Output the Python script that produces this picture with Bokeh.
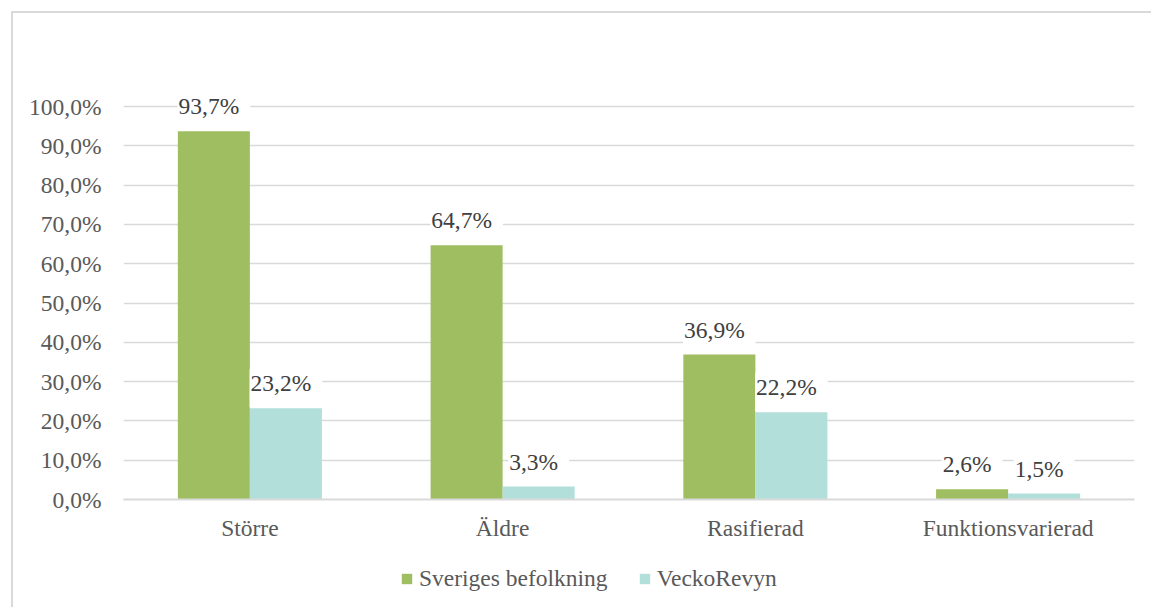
from bokeh.plotting import figure
from bokeh.layouts import column
from bokeh.models import ColumnDataSource, FactorRange, Legend, LegendItem, Range1d
from bokeh.transform import dodge
from bokeh.core.properties import value
from bokeh.embed import file_html
from bokeh.resources import INLINE

categories = ["Större", "Äldre", "Rasifierad", "Funktionsvarierad"]
sverige = [93.7, 64.7, 36.9, 2.6]
veckorevyn = [23.2, 3.3, 22.2, 1.5]
series_names = ["Sveriges befolkning", "VeckoRevyn"]
y_ticks = [0, 10, 20, 30, 40, 50, 60, 70, 80, 90, 100]

def fmt(v):
    return f"{v:.1f}".replace(".", ",") + "%"

src = ColumnDataSource(dict(
    cat=categories,
    s=sverige,
    v=veckorevyn,
    sl=[fmt(x) for x in sverige],
    vl=[fmt(x) for x in veckorevyn],
))

FONT = "Liberation Serif"
FS = "23.5px"
GREEN = "#9FBE62"
TEAL = "#B2DFDA"

p = figure(width=1138, height=540, x_range=FactorRange(*categories, range_padding=0),
           y_range=(0, 121.4), output_backend="svg", toolbar_location=None,
           min_border_left=110, min_border_right=17, min_border_top=9, min_border_bottom=54)
p.outline_line_color = None
p.background_fill_color = "white"
p.border_fill_color = "white"

r1 = p.vbar(x=dodge("cat", -0.1425, range=p.x_range), top="s", width=0.285, source=src,
            fill_color=GREEN, line_color=None)
r2 = p.vbar(x=dodge("cat", 0.1425, range=p.x_range), top="v", width=0.285, source=src,
            fill_color=TEAL, line_color=None)

for col, lab, off in [("s", "sl", -0.1425), ("v", "vl", 0.1425)]:
    p.text(x=dodge("cat", off, range=p.x_range), y=col, text=lab, source=src,
           text_align="center", text_baseline="middle", y_offset=-20,
           text_font=value(FONT), text_font_size=FS, text_color="#404040",
           background_fill_color="white", padding=[1, 11, 1, 11])

p.yaxis.ticker = y_ticks
p.yaxis.major_label_overrides = {t: fmt(t) for t in y_ticks}
p.yaxis.axis_line_color = None
p.yaxis.major_tick_line_color = None
p.yaxis.minor_tick_line_color = None
p.yaxis.major_label_standoff = 16
p.yaxis.major_label_text_font = FONT
p.yaxis.major_label_text_font_size = FS
p.yaxis.major_label_text_color = "#595959"

p.xaxis.axis_line_color = "#d9d9d9"
p.xaxis.axis_line_width = 2
p.xaxis.major_tick_line_color = None
p.xaxis.minor_tick_line_color = None
p.xaxis.major_label_standoff = 9
p.xaxis.major_label_text_font = FONT
p.xaxis.major_label_text_font_size = FS
p.xaxis.major_label_text_color = "#595959"

p.xgrid.grid_line_color = None
p.ygrid.grid_line_color = "#d9d9d9"
p.ygrid.grid_line_width = 1.5

# legend strip (zero-height bars only carry the legend swatches)
p2 = figure(width=1138, height=54, x_range=FactorRange(*categories, range_padding=0),
            y_range=Range1d(0, 1), output_backend="svg", toolbar_location=None,
            min_border_left=0, min_border_right=0, min_border_top=0, min_border_bottom=0)
p2.axis.visible = False
p2.grid.grid_line_color = None
p2.outline_line_color = None
p2.border_fill_color = "white"
l1 = p2.vbar(x="cat", top=0, bottom=0, width=0.285, source=src, fill_color=GREEN, line_color=None)
l2 = p2.vbar(x="cat", top=0, bottom=0, width=0.285, source=src, fill_color=TEAL, line_color=None)

legend = Legend(items=[LegendItem(label=series_names[0], renderers=[l1]),
                       LegendItem(label=series_names[1], renderers=[l2])],
                orientation="horizontal", location=(277, 15),
                glyph_width=13, glyph_height=13, spacing=30, padding=0, margin=0,
                label_text_font=FONT, label_text_font_size=FS,
                label_text_color="#595959", label_standoff=6,
                border_line_color=None, background_fill_alpha=0)
p2.add_layout(legend, "center")

layout = column(p, p2, spacing=0,
                styles={"border-left": "2px solid #d9d9d9", "border-top": "2px solid #d9d9d9",
                        "margin-left": "11px", "margin-top": "11px"})

open("out.html", "w").write(file_html(layout, INLINE))
